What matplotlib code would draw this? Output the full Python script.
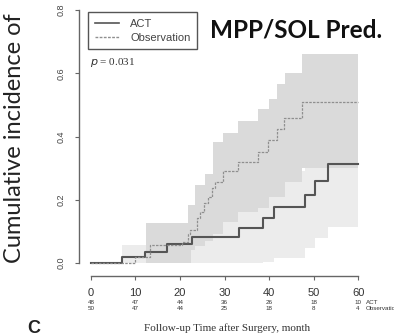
import numpy as np
import matplotlib.pyplot as plt
from matplotlib.lines import Line2D

# 累積発生率 (ACT)
act_t = [0, 7, 12.2, 17.1, 22.7, 33.3, 38.7, 41.2, 48.1, 50.4, 53.1, 60]
act_y = [0, 0.019, 0.035, 0.06, 0.083, 0.11, 0.143, 0.178, 0.216, 0.258, 0.313, 0.313]

# 累積発生率 (Observation)
obs_t = [0, 9.9, 13.3, 20.5, 21.9, 22.3, 23.8, 24.5, 25.5, 26.3, 27.2, 27.9,
         29.7, 33.1, 37.5, 39.8, 41.8, 43.4, 47.4, 60]
obs_y = [0, 0.02, 0.057, 0.065, 0.09, 0.105, 0.143, 0.16, 0.19, 0.21, 0.238, 0.257,
         0.29, 0.32, 0.352, 0.39, 0.425, 0.46, 0.51, 0.51]

# 信頼区間
act_ci_t = [7, 12.2, 17.1, 22.7, 33.3, 38.7, 41.2, 48.1, 50.4, 53.1, 60]
act_ci_hi = [0.057, 0.057, 0.12, 0.16, 0.2, 0.25, 0.29, 0.35, 0.4, 0.48, 0.48]
act_ci_lo = [0, 0, 0, 0, 0, 0.003, 0.015, 0.048, 0.08, 0.114, 0.114]

obs_ci_t = [12.5, 21.8, 22.5, 23.4, 25.6, 27.4, 29.7, 33.1, 37.5, 40, 41.8, 43.6,
            47.4, 60]
obs_ci_hi = [0.125, 0.184, 0.184, 0.248, 0.28, 0.384, 0.41, 0.45, 0.486, 0.52,
             0.565, 0.6, 0.66, 0.66]
obs_ci_lo = [0, 0, 0.04, 0.055, 0.07, 0.09, 0.13, 0.16, 0.175, 0.21, 0.21, 0.257,
             0.30, 0.30]

# number at risk
risk_times = [0, 10, 20, 30, 40, 50, 60]
risk_act = [48, 47, 44, 36, 26, 18, 10]
risk_obs = [50, 47, 44, 25, 18, 8, 4]

W, H = 394, 335
fig = plt.figure(figsize=(W / 100, H / 100), dpi=100)
ax = fig.add_axes([80 / W, (H - 273) / H, 289 / W, 273 / H])

ax.fill_between(act_ci_t, act_ci_lo, act_ci_hi, step='post', color='#ececec', lw=0)
ax.fill_between(obs_ci_t, obs_ci_lo, obs_ci_hi, step='post', color='#dadada', lw=0)
ax.step(act_t, act_y, where='post', color='#555555', lw=1.5)
ax.step(obs_t, obs_y, where='post', color='#8f8f8f', lw=0.9, linestyle=(0, (2, 1)))

ax.set_xlim(-2.4, 62.4)
ax.set_ylim(-0.032, 0.832)

for s in ['top', 'right']:
    ax.spines[s].set_visible(False)
ax.spines['left'].set_bounds(0, 0.8)
ax.spines['bottom'].set_bounds(0, 60)
ax.spines['left'].set_position(('outward', 1))
ax.spines['bottom'].set_position(('outward', 2))
for s in ['left', 'bottom']:
    ax.spines[s].set_color('#666666')
    ax.spines[s].set_linewidth(1.0)

ax.set_xticks(risk_times)
ax.set_yticks([0, 0.2, 0.4, 0.6, 0.8])
ax.set_yticklabels(['0.0', '0.2', '0.4', '0.6', '0.8'], rotation=90, va='center')
ax.tick_params(axis='x', length=3, color='#666666', labelsize=8, pad=6,
               labelcolor='#333333')
ax.tick_params(axis='y', length=3, color='#666666', labelsize=6.5, pad=6,
               labelcolor='#444444')
for lab in ax.get_xticklabels() + ax.get_yticklabels():
    lab.set_family('Liberation Sans')

# 凡例
handles = [Line2D([], [], color='#555555', lw=1.2),
           Line2D([], [], color='#8f8f8f', lw=1.0, linestyle=(0, (2, 1)))]
leg = ax.legend(handles, ['ACT', 'Observation'], loc='upper left',
                bbox_to_anchor=(0.028, 0.956), borderaxespad=0, fancybox=False,
                framealpha=1, edgecolor='#555555', handlelength=2.2,
                handletextpad=1.0, prop={'family': 'Liberation Sans', 'size': 8},
                labelspacing=0.35, borderpad=0.6)
leg.get_frame().set_linewidth(1.0)
for t in leg.get_texts():
    t.set_color('#444444')

ax.text(0.035, 0.77, r'$p$ = 0.031', transform=ax.transAxes, fontsize=8,
        family='Liberation Serif', va='center', color='#333333')

# タイトル・ラベル
fig.text(296 / W, 1 - 30 / H, 'MPP/SOL Pred.', ha='center', va='center',
         family='Lato', weight='bold', fontsize=17.5, color='#111111')
fig.text(15 / W, 1 - 263 / H, 'Cumulative incidence of', rotation=90,
         ha='center', va='bottom', family='Lato', fontsize=17, color='#222222')
fig.text(227 / W, 1 - 328 / H, 'Follow-up Time after Surgery, month',
         ha='center', va='center', family='Liberation Serif', fontsize=8,
         color='#333333')
fig.text(34 / W, 1 - 320 / H, 'C', ha='center', va='top', family='Liberation Sans',
         weight='bold', fontsize=13, color='#222222')

# number at risk
for t, a, o in zip(risk_times, risk_act, risk_obs):
    x = (91 + t * 4.45) / W
    fig.text(x, 1 - 302 / H, str(a), ha='center', va='center', fontsize=4.5,
             family='Liberation Sans', color='#333333')
    fig.text(x, 1 - 308.5 / H, str(o), ha='center', va='center', fontsize=4.5,
             family='Liberation Sans', color='#333333')
fig.text(366 / W, 1 - 302 / H, 'ACT', ha='left', va='center', fontsize=4.5,
         family='Liberation Sans', color='#333333')
fig.text(366 / W, 1 - 308.5 / H, 'Observation', ha='left', va='center', fontsize=4.5,
         family='Liberation Sans', color='#333333')

fig.savefig('out.png', dpi=100)
